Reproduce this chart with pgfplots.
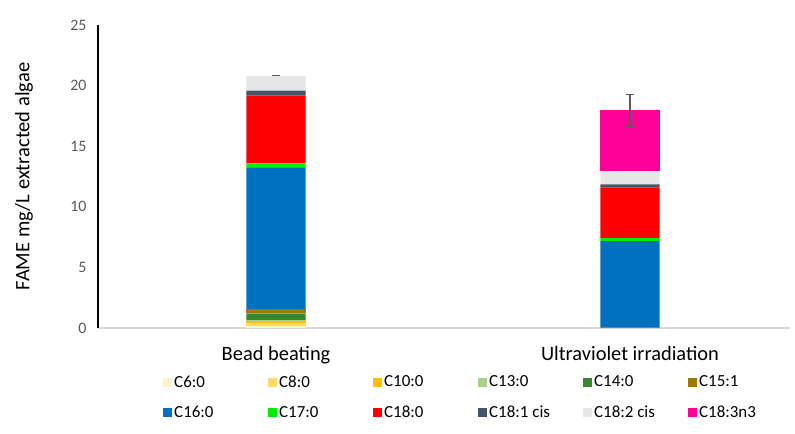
\documentclass[border=0pt]{standalone}
\usepackage{pgfplots}
\usepackage{pgfplotstable}
\pgfplotsset{compat=1.18}
\usepackage{fontspec}
\setmainfont{Carlito}
\definecolor{cA}{HTML}{FFF2CC}
\definecolor{cB}{HTML}{FFD966}
\definecolor{cC}{HTML}{FFC000}
\definecolor{cD}{HTML}{A9D18E}
\definecolor{cE}{HTML}{38872C}
\definecolor{cF}{HTML}{A07800}
\definecolor{cG}{HTML}{0070C0}
\definecolor{cH}{HTML}{00EE00}
\definecolor{cI}{HTML}{FF0000}
\definecolor{cJ}{HTML}{44546A}
\definecolor{cK}{HTML}{E7E6E6}
\definecolor{cL}{HTML}{FF0099}
\definecolor{tickgray}{HTML}{595959}
\definecolor{errgray}{HTML}{595959}
\pgfplotstableread{
x C6 C8 C10 C13 C14 C15 C16 C17 C18 C181 C182 C183 err
0 0.15 0.30 0.15 0.05 0.55 0.35 11.70 0.33 5.60 0.40 1.20 0.00 0.05
1 0.00 0.00 0.00 0.00 0.06 0.00 7.10 0.25 4.20 0.25 1.07 5.05 1.30
}\datatable
\begin{document}
\begin{tikzpicture}
\useasboundingbox (0,0) rectangle (795bp,434bp);
\begin{axis}[
  at={(98bp,106bp)}, anchor=south west,
  scale only axis, width=692bp, height=303bp,
  ybar stacked, bar width=0.167,
  xmin=-0.503, xmax=1.452, ymin=0, ymax=25,
  xtick={0,1}, xticklabels={Bead beating, Ultraviolet irradiation},
  ytick={0,5,10,15,20,25},
  major tick length=0,
  axis x line=bottom, axis y line=left,
  x axis line style={draw=black!15, line width=1.5bp, -},
  y axis line style={draw=black, line width=1.5bp, -},
  /pgf/number format/assume math mode=true,
  yticklabel style={text=tickgray, font=\fontsize{16}{16}\selectfont, xshift=-8bp},
  xticklabel style={text=black, font=\fontsize{20.5}{20.5}\selectfont, yshift=-15bp},
  ylabel={FAME mg/L extracted algae},
  every axis y label/.style={at={(axis description cs:-0.107,0.5)}, rotate=90, anchor=center, font=\fontsize{20.6}{20.6}\selectfont},
  legend columns=6,
  legend style={draw=none, at={(axis description cs:0.094,-0.15)}, anchor=north west,
    font=\fontsize{17}{17}\selectfont, row sep=13bp, inner sep=0pt,
    /tikz/every even column/.append style={column sep=0bp}},
  legend image code/.code={\fill[#1,draw=none] (0bp,-4.5bp) rectangle (9bp,4.5bp);},
  every axis plot/.append style={draw=none},
]
\addplot[fill=cA] table[x=x,y=C6]{\datatable}; \addlegendentry{\makebox[92bp][l]{C6:0}}
\addplot[fill=cB] table[x=x,y=C8]{\datatable}; \addlegendentry{\makebox[92bp][l]{C8:0}}
\addplot[fill=cC] table[x=x,y=C10]{\datatable}; \addlegendentry{\makebox[92bp][l]{C10:0}}
\addplot[fill=cD] table[x=x,y=C13]{\datatable}; \addlegendentry{\makebox[92bp][l]{C13:0}}
\addplot[fill=cE] table[x=x,y=C14]{\datatable}; \addlegendentry{\makebox[92bp][l]{C14:0}}
\addplot[fill=cF] table[x=x,y=C15]{\datatable}; \addlegendentry{\makebox[92bp][l]{C15:1}}
\addplot[fill=cG] table[x=x,y=C16]{\datatable}; \addlegendentry{\makebox[92bp][l]{C16:0}}
\addplot[fill=cH] table[x=x,y=C17]{\datatable}; \addlegendentry{\makebox[92bp][l]{C17:0}}
\addplot[fill=cI] table[x=x,y=C18]{\datatable}; \addlegendentry{\makebox[92bp][l]{C18:0}}
\addplot[fill=cJ] table[x=x,y=C181]{\datatable}; \addlegendentry{\makebox[92bp][l]{C18:1 cis}}
\addplot[fill=cK] table[x=x,y=C182]{\datatable}; \addlegendentry{\makebox[92bp][l]{C18:2 cis}}
\addplot[fill=cL,
  error bars/.cd, y dir=both, y explicit,
  error bar style={draw=errgray, line width=1.3bp},
  error mark options={rotate=90, mark size=4bp, draw=errgray, line width=1.5bp}]
  table[x=x,y=C183,y error=err]{\datatable}; \addlegendentry{\makebox[92bp][l]{C18:3n3}}
\end{axis}
\end{tikzpicture}
\end{document}
